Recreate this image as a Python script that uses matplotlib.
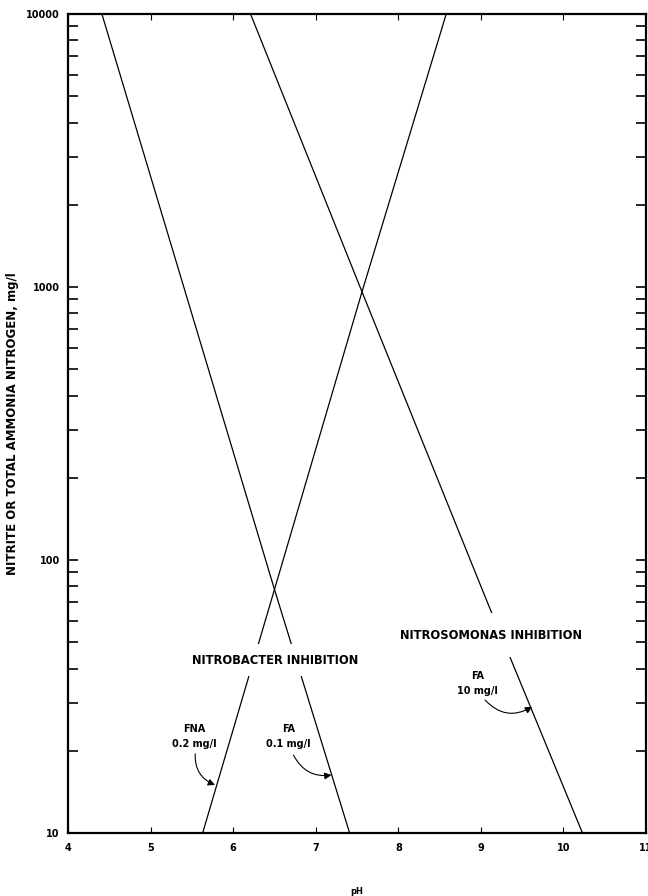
import matplotlib
matplotlib.use('Agg')
import matplotlib.pyplot as plt
from matplotlib.ticker import LogLocator, NullFormatter, FixedLocator

plt.rcParams['font.family'] = ['DejaVu Sans']

# Valeurs (pH, azote mg/l)
fa01_ph = [4.41, 6.50, 7.41]
fa01_n = [10000, 78, 10]
fna_ph = [5.63, 6.50, 7.56, 8.58]
fna_n = [10, 78, 960, 10000]
fa10_ph = [6.21, 7.56, 9.07, 10.23]
fa10_n = [10000, 960, 71, 10]

x_ticks = [4, 5, 6, 7, 8, 9, 10, 11]
y_ticks = [10, 100, 1000, 10000]
y_labels = ['10', '100', '1000', '10000']

fig = plt.figure(figsize=(6.48, 8.96), dpi=100)
ax = fig.add_axes([0.105, 0.0703, 0.892, 0.9141])

for ph, n in [(fa01_ph, fa01_n), (fna_ph, fna_n), (fa10_ph, fa10_n)]:
    ax.plot(ph, n, color='black', lw=0.9, zorder=2)

ax.set_yscale('log')
ax.set_xlim(4, 11)
ax.set_ylim(10, 10000)

for s in ax.spines.values():
    s.set_linewidth(1.6)

ax.xaxis.set_major_locator(FixedLocator(x_ticks))
ax.set_xticklabels([str(t) for t in x_ticks], fontsize=7, fontweight='bold')
ax.yaxis.set_major_locator(FixedLocator(y_ticks))
ax.set_yticklabels(y_labels, fontsize=7, fontweight='bold')
ax.yaxis.set_minor_locator(LogLocator(base=10, subs=range(2, 10)))
ax.yaxis.set_minor_formatter(NullFormatter())

ax.tick_params(axis='x', which='major', direction='in', length=4, width=0.8,
               top=True, bottom=True, pad=7)
ax.tick_params(axis='y', which='both', direction='in', length=7, width=1.2,
               left=True, right=True, pad=6)

ax.set_xlabel('pH', fontsize=6, fontweight='bold', labelpad=25)
ax.set_ylabel('NITRITE OR TOTAL AMMONIA NITROGEN, mg/l', fontsize=8.5,
              fontweight='bold', labelpad=5)

# Étiquettes sur fond blanc pour couper les droites
box = dict(facecolor='white', edgecolor='none', pad=7)
ax.text(6.51, 43, 'NITROBACTER INHIBITION', fontsize=8.3, fontweight='bold',
        ha='center', va='center', bbox=box, zorder=3)
box2 = dict(facecolor='white', edgecolor='none', pad=11)
ax.text(9.12, 53, 'NITROSOMONAS INHIBITION', fontsize=8.3, fontweight='bold',
        ha='center', va='center', bbox=box2, zorder=3)

ax.text(5.53, 22.6, 'FNA\n0.2 mg/l', fontsize=7, fontweight='bold',
        ha='center', va='center', linespacing=1.6)
ax.text(6.67, 22.6, 'FA\n0.1 mg/l', fontsize=7, fontweight='bold',
        ha='center', va='center', linespacing=1.6)
ax.text(8.96, 35.4, 'FA\n10 mg/l', fontsize=7, fontweight='bold',
        ha='center', va='center', linespacing=1.6)

arrow = dict(arrowstyle='-|>', lw=0.8, color='black', mutation_scale=10,
             shrinkA=0, shrinkB=0, facecolor='#555555')
ax.annotate('', xy=(5.78, 15.0), xytext=(5.54, 19.5),
            arrowprops=dict(arrow, connectionstyle='arc3,rad=0.35'))
ax.annotate('', xy=(7.19, 16.3), xytext=(6.73, 19.3),
            arrowprops=dict(arrow, connectionstyle='arc3,rad=0.35'))
ax.annotate('', xy=(9.62, 29.0), xytext=(9.05, 30.7),
            arrowprops=dict(arrow, connectionstyle='arc3,rad=0.4'))

fig.savefig('out.png', dpi=100)
